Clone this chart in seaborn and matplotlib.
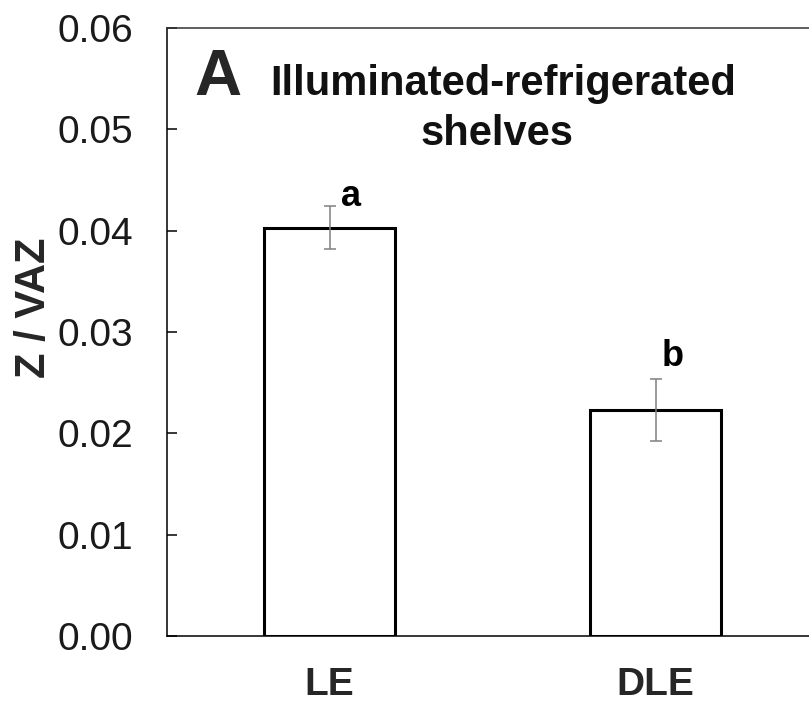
import matplotlib
matplotlib.use("Agg")
import matplotlib.pyplot as plt
from matplotlib import font_manager
import seaborn as sns
import numpy as np

categories = ["LE", "DLE"]
means = [0.0403, 0.0223]
errors = [0.0021, 0.0031]
letters = ["a", "b"]
yticks = [0.00, 0.01, 0.02, 0.03, 0.04, 0.05, 0.06]

sns.set_style("white")
names = {f.name for f in font_manager.fontManager.ttflist}
base = "Liberation Sans" if "Liberation Sans" in names else "DejaVu Sans"
narrow = "Liberation Sans Narrow" if "Liberation Sans Narrow" in names else base
plt.rcParams["font.family"] = [base, "DejaVu Sans"]

fig = plt.figure(figsize=(8.09, 7.04), dpi=100)
ax = fig.add_axes([0.206, 0.0966, 0.806, 0.8636])

sns.barplot(x=categories, y=means, ax=ax, color="white", edgecolor="black",
            linewidth=2.2, width=0.4, saturation=1, errorbar=None)
ax.errorbar(np.arange(len(categories)), means, yerr=errors, fmt="none",
            ecolor="#808080", elinewidth=1.1, capsize=4.3, capthick=1.1, zorder=5)

offsets = [(15, 0), (12, 9)]
for i, (m, e, l) in enumerate(zip(means, errors, letters)):
    ax.annotate(l, xy=(i, m + e), xytext=offsets[i], textcoords="offset points",
                ha="center", va="baseline", fontsize=26, fontweight="bold",
                color="black")

ax.set_xlim(-0.5, 1.5)
ax.set_ylim(0, 0.06)
ax.set_yticks(yticks)
ax.set_yticklabels([f"{t:.2f}" for t in yticks], fontsize=28, color="#1a1a1a")
ax.set_xticks(range(len(categories)))
ax.set_xticklabels(categories, fontsize=28, fontweight="bold")
ax.tick_params(axis="y", direction="in", length=7, width=1.1, pad=24, color="black", left=True)
ax.tick_params(axis="x", length=0, pad=22)
ax.set_xlabel("")
ax.set_ylabel("Z / VAZ", fontsize=30, fontweight="bold")
ax.yaxis.set_label_coords(-0.173, 0.540)

for s in ["left", "bottom", "top"]:
    ax.spines[s].set_visible(True)
    ax.spines[s].set_color("black")
    ax.spines[s].set_linewidth(1.1)
ax.spines["top"].set_color("#333333")
ax.spines["right"].set_visible(False)

ax.text(0.042, 0.890, "A", transform=ax.transAxes, fontsize=47, fontweight="bold",
        ha="left", va="baseline")
ax.text(0.516, 0.890, "Illuminated-refrigerated", transform=ax.transAxes,
        fontsize=30, fontweight="bold", family=[narrow, "DejaVu Sans"],
        ha="center", va="baseline", color="#111111")
ax.text(0.506, 0.8076, "shelves", transform=ax.transAxes,
        fontsize=30, fontweight="bold", family=[narrow, "DejaVu Sans"],
        ha="center", va="baseline", color="#111111")

fig.savefig("out.png", dpi=100)
